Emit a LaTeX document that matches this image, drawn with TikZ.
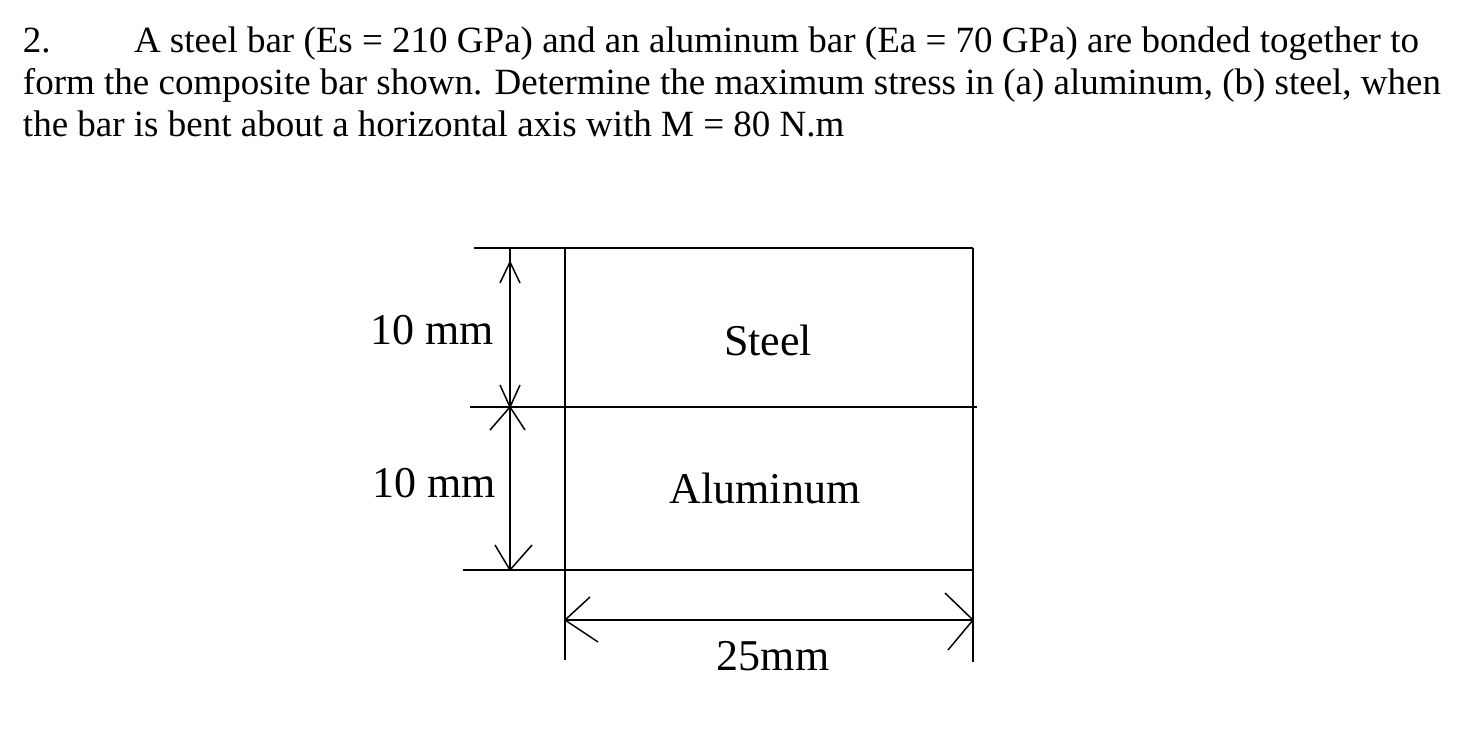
\documentclass[tikz,border=0pt]{standalone}
\usepackage{fontspec}
\setmainfont{Liberation Serif}
\begin{document}
\begin{tikzpicture}[x=1pt,y=-1pt,line width=2pt,
  txt/.style={font=\fontsize{37}{42}\selectfont,inner sep=0pt,anchor=base west},
  lbl/.style={font=\fontsize{44}{48}\selectfont,inner sep=0pt,anchor=base},
  tip/.style={line width=1.5pt}]
\useasboundingbox[fill=white] (0,0) rectangle (1470,737);
\node[txt] (l1a) at (22,52) {2.};
\node[txt] (l1) at (133,52) {A steel bar (Es = 210 GPa) and an aluminum bar (Ea = 70 GPa) are bonded together to};
\node[txt] (l2) at (22,94) {form the composite bar shown. Determine the maximum stress in (a) aluminum, (b) steel, when};
\node[txt] (l3) at (22,136) {the bar is bent about a horizontal axis with M = 80 N.m};
% structure
\coordinate (tl) at (565,248); \coordinate (tr) at (973,248);
\draw (474,248) -- (tr);
\draw (470,407) -- (977,407);
\draw (463,570) -- (973,570);
\draw (565,248) -- (565,660);
\draw (973,248) -- (973,662);
% vertical dim
\coordinate (v0) at (510,248); \coordinate (v1) at (510,407); \coordinate (v2) at (510,570);
\draw (v0) -- (v2);
\draw[tip] (500,283) -- (510,262) -- (520,283);
\draw[tip] (500,385) -- (510,407) -- (520,385);
\draw[tip] (490,430) -- (510,407) -- (525,430);
\draw[tip] (495,545) -- (510,570) -- (532,545);
% horizontal dim
\coordinate (h0) at (565,620); \coordinate (h1) at (973,620);
\draw (h0) -- (h1);
\draw[tip] (590,597) -- (565,620) -- (598,642);
\draw[tip] (945,593) -- (973,620) -- (948,650);
\node[lbl,anchor=base east] (d1) at (495,344) {10 mm};
\node[lbl,anchor=base east] (d2) at (497,497) {10 mm};
\node[lbl] (s) at (768,355) {Steel};
\node[lbl] (a) at (765,503) {Aluminum};
\node[lbl] (w) at (773,670) {25mm};
\end{tikzpicture}
\end{document}
